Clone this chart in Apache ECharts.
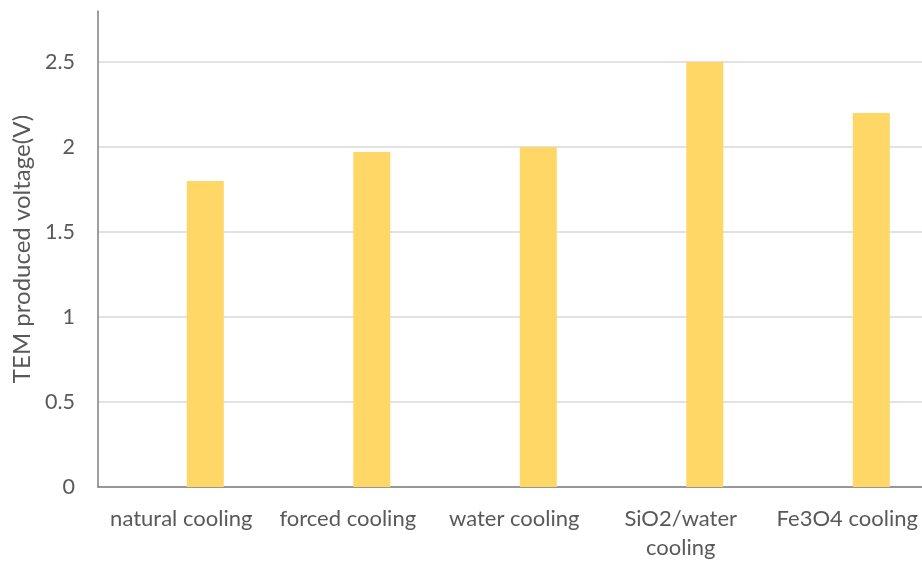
<!DOCTYPE html>
<html>
<head>
<meta charset="utf-8">
<style>
  html, body { margin: 0; padding: 0; background: #fff; }
  #chart { width: 922px; height: 561px; }
</style>
<script src="https://cdn.jsdelivr.net/npm/echarts@6/dist/echarts.min.js"></script>
</head>
<body>
<div id="chart"></div>
<script>
// Cooling methods on the category axis
const categories = ['natural cooling', 'forced cooling', 'water cooling', 'SiO2/water\ncooling', 'Fe3O4 cooling'];
// Voltage produced by the thermoelectric module for each method (V)
const voltage = [1.8, 1.97, 2.0, 2.5, 2.2];
// Value axis range
const yMin = 0;
const yMax = 2.8;
const yStep = 0.5;

const textColor = '#595959';
const font = 'Lato';

const chart = echarts.init(document.getElementById('chart'), null, { renderer: 'canvas' });
chart.setOption({
  animation: false,
  backgroundColor: '#ffffff',
  grid: { left: 98, right: -8.5, top: 11, bottom: 74, outerBoundsMode: 'none', containLabel: false },
  xAxis: {
    type: 'category',
    data: categories,
    axisLine: { show: true, lineStyle: { color: '#7f7f7f', width: 1.5 } },
    axisTick: { show: false },
    axisLabel: { color: textColor, fontFamily: font, fontSize: 22, margin: 17, lineHeight: 29, interval: 0 }
  },
  yAxis: {
    type: 'value',
    min: yMin, max: yMax, interval: yStep,
    name: 'TEM produced voltage(V)',
    nameLocation: 'middle',
    nameGap: 64,
    nameTextStyle: { color: textColor, fontFamily: font, fontSize: 24 },
    axisLine: { show: true, lineStyle: { color: '#7f7f7f', width: 1.5 } },
    axisTick: { show: false },
    axisLabel: { color: textColor, fontFamily: font, fontSize: 21.5, margin: 23, showMaxLabel: false },
    splitLine: { show: true, showMaxLine: false, lineStyle: { color: '#d9d9d9', width: 1.5 } }
  },
  series: [
    // empty companion series sharing each category slot
    { type: 'bar', name: 'companion', data: [], barWidth: 37, barGap: '30%' },
    {
      type: 'bar', name: 'voltage', data: voltage,
      barWidth: 37, barGap: '30%',
      itemStyle: { color: '#fed766' }
    }
  ]
});
</script>
</body>
</html>
